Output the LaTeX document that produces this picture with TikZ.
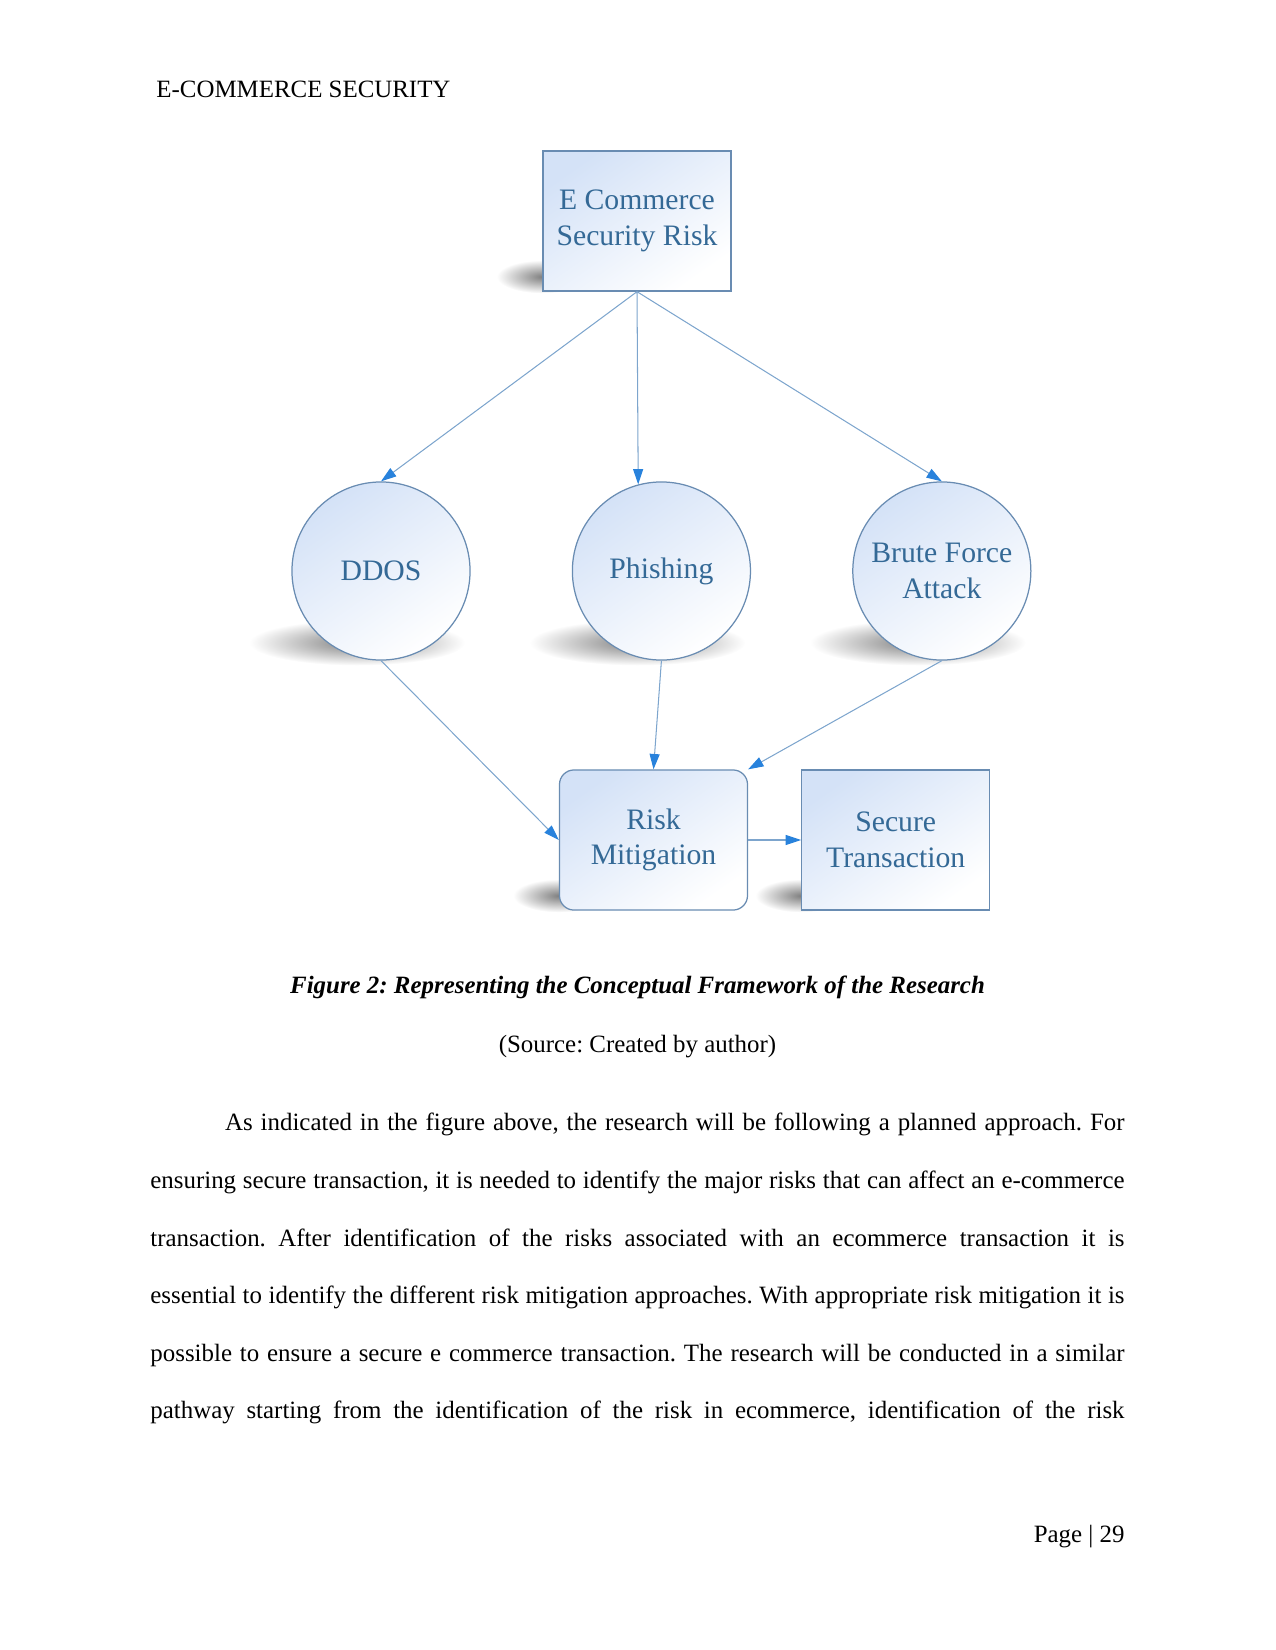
\documentclass[tikz,border=0pt]{standalone}
\usepackage{fontspec}
\setmainfont{Liberation Serif}
\usetikzlibrary{arrows.meta, positioning, calc, backgrounds}

\definecolor{nodeline}{RGB}{105,140,178}
\definecolor{nodetext}{RGB}{52,105,150}
\definecolor{nodefill}{RGB}{212,226,247}
\definecolor{arrline}{RGB}{125,165,205}
\definecolor{arrhead}{RGB}{40,130,220}

\begin{document}
\begin{tikzpicture}[
                x=0.16933mm, y=-0.16933mm,
                font=\fontsize{12pt}{14.4pt}\selectfont\frenchspacing,
                >={Triangle[length=2.6mm, width=1.7mm, color=arrhead]},
                framebox/.style={
                        draw=nodeline, line width=0.6pt,
                        top color=nodefill, bottom color=white, shading angle=35,
                        minimum width=90.6pt, minimum height=67.5pt,
                        inner sep=0pt, align=center, text=nodetext,
                        font=\fontsize{14.3pt}{17.2pt}\selectfont
                    },
                roundbox/.style={framebox, rounded corners=7pt},
                threat/.style={framebox, circle, minimum size=85.8pt},
                arr/.style={->, arrline, line width=0.5pt},
                shadowblob/.style={inner color=black!50, outer color=white},
                pagetext/.style={inner sep=0pt},
                ]

                \useasboundingbox (0,0) rectangle (1275,1650);

                \node[pagetext, anchor=base west] (header) at (156,97) {E-COMMERCE SECURITY};

                \node[framebox] (ecom) at (637,221) {E Commerce\\Security Risk};

                \node[threat] (ddos) at (381,571) {DDOS};
                \node[threat, right=48.7pt of ddos] (phish) {Phishing};
                \node[threat, right=48.7pt of phish] (brute) {Brute Force\\Attack};

                \node[roundbox] (risk) at (653.5,840) {Risk\\Mitigation};
                \node[framebox, right=25.5pt of risk] (secure) {Secure\\Transaction};

                \draw[arr] (ecom.south) -- (ddos.north);
                \draw[arr] (ecom.south) -- (phish.105);
                \draw[arr] (ecom.south) -- (brute.north);
                \draw[arr] (ddos.south) -- (risk.west);
                \draw[arr] (phish.south) -- (risk.north);
                \draw[arr] (brute.south) -- (risk.north east);
                \draw[arr] (risk) -- (secure);

                % soft shadows behind the shapes
                \begin{scope}[on background layer]
                        \shade[shadowblob] ($(ddos.south)+(-24,-18)$) ellipse [x radius=52pt, y radius=11pt];
                        \shade[shadowblob] ($(phish.south)+(-24,-18)$) ellipse [x radius=52pt, y radius=11pt];
                        \shade[shadowblob] ($(brute.south)+(-24,-18)$) ellipse [x radius=52pt, y radius=11pt];
                        \shade[shadowblob] ($(ecom.south west)+(0,-15)$) ellipse [x radius=22pt, y radius=8pt];
                        \shade[shadowblob] ($(risk.south west)+(0,-15)$) ellipse [x radius=22pt, y radius=8pt];
                        \shade[shadowblob] ($(secure.south west)+(0,-15)$) ellipse [x radius=22pt, y radius=8pt];
                \end{scope}

                \node[pagetext, anchor=base, font=\fontsize{12pt}{14.4pt}\selectfont\bfseries\itshape\frenchspacing] (caption) at (637.5,993)
                        {Figure 2: Representing the Conceptual Framework of the Research};
                \node[pagetext, anchor=base] (source) at (637.5,1052) {(Source: Created by author)};

                \node[pagetext, anchor=north west, text width=469.3pt, align=justify,
                        font=\fontsize{12pt}{27.75pt}\selectfont\frenchspacing] (body) at (150,1113)
                        {\hyphenpenalty=10000\hspace*{36pt}As indicated in the figure above, the research will be following a planned approach. For\linebreak
                        ensuring secure transaction, it is needed to identify the major risks that can affect an e-commerce\linebreak
                        transaction. After identification of the risks associated with an ecommerce transaction it is\linebreak
                        essential to identify the different risk mitigation approaches. With appropriate risk mitigation it is\linebreak
                        possible to ensure a secure e commerce transaction. The research will be conducted in a similar\linebreak
                        pathway starting from the identification of the risk in ecommerce, identification of the risk\linebreak};

                \node[pagetext, anchor=base east] (page) at (1125,1542) {Page | 29};
            \end{tikzpicture}
\end{document}
